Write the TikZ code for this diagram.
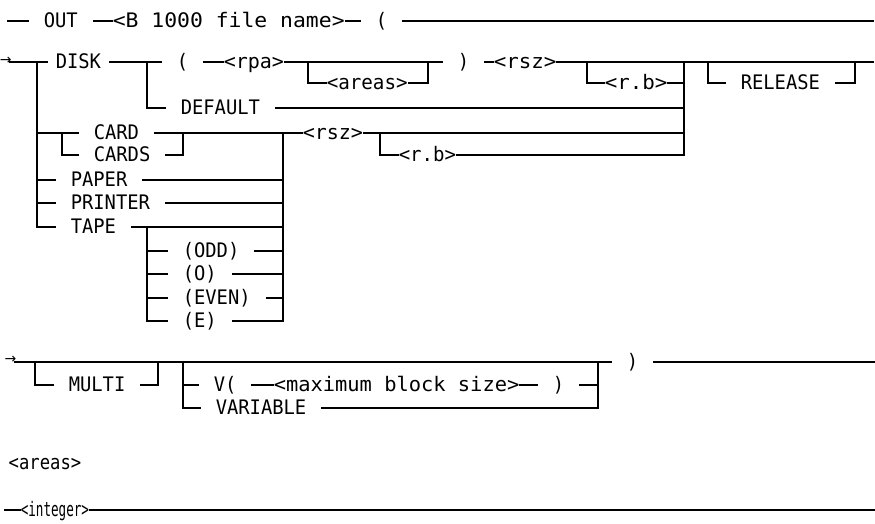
\documentclass[tikz,border=0pt]{standalone}
\usepackage{fontspec}
\usepackage{graphicx}
\newfontfamily\monof{DejaVu Sans Mono}
\newfontfamily\symf{DejaVu Sans}
\newcommand{\sx}[2]{\scalebox{#1}[1]{#2}}
\newcommand{\K}[1]{\scalebox{0.94}[1]{#1}}
\begin{document}
\begin{tikzpicture}[x=1pt,y=-1pt,line width=1.5pt,line cap=rect,
  every node/.style={inner ysep=0pt,text height=12pt,text depth=0pt,
    font=\monof\fontsize{20}{22}\selectfont},
  kw/.style={anchor=west,inner xsep=15pt,xshift=-15pt},
  nt/.style={anchor=west,inner xsep=0pt},
  arr/.style={anchor=west,inner sep=0pt,text height=8pt,text depth=0pt,
    font=\symf\fontsize{14}{16}\selectfont}]
\useasboundingbox (0,0) rectangle (875,523);

% ---------- row 1
\coordinate (r1s) at (8,21);
\node[kw] (out) at (43,21) {\K{OUT}};
\node[nt] (bname) at (112,21) {\sx{1.07}{<B 1000 file name>}};
\node[kw] (lp1) at (375,21) {\K{(}};
\coordinate (r1e) at (873,21);
\draw (r1s) -- (out) -- (bname) -- (lp1) -- (r1e);

% ---------- row 2
\node[arr] (a2) at (-1,60) {→};
\coordinate (r2s) at (10,62);
\coordinate (j37a) at (37,62);
\node[kw,inner xsep=8pt,xshift=7pt] (disk) at (55,62) {\K{DISK}};
\coordinate (j147a) at (147,62);
\node[kw] (lp2) at (176,62) {\K{(}};
\node[nt] (rpa) at (223,62) {\sx{1.0}{<rpa>}};
\coordinate (ja1) at (308,62);
\coordinate (ja2) at (428,62);
\node[nt] (areas) at (326,83) {\sx{0.96}{<areas>}};
\node[kw] (rp2) at (457,62) {\K{)}};
\node[nt] (rsz) at (493,62) {\sx{1.04}{<rsz>}};
\coordinate (jr1) at (587,62);
\node[nt] (rb) at (604,83) {\sx{1.04}{<r.b>}};
\coordinate (j684a) at (684,62);
\coordinate (jl1) at (708,62);
\node[kw] (release) at (740,83) {\K{RELEASE}};
\coordinate (jl2) at (855,62);
\coordinate (r2e) at (873,62);
\draw (r2s) -- (disk) -- (lp2) -- (rpa) -- (rp2) -- (rsz) -- (r2e);
\draw (ja1) |- (areas) -| (ja2);
\draw (jr1) |- (rb) -| (j684a);
\draw (jl1) |- (release) -| (jl2);

% DEFAULT
\node[kw] (default) at (180,108) {\K{DEFAULT}};
\coordinate (j684d) at (684,108);
\draw (j147a) |- (default) -- (j684d);

% main vertical and right vertical
\coordinate (j37t) at (37,227);
\coordinate (j684e) at (684,155);
\draw (j37a) -- (j37t);
\draw (j684a) -- (j684e);

% CARD / CARDS
\coordinate (j37c) at (37,133);
\node[kw] (card) at (93,133) {\K{CARD}};
\coordinate (j62) at (62,133);
\node[kw] (cards) at (93,155) {\K{CARDS}};
\coordinate (j183) at (183,133);
\coordinate (j283t) at (283,133);
\node[nt] (rsz2) at (302,133) {\sx{1.0}{<rsz>}};
\coordinate (j380) at (380,133);
\node[nt] (rb2) at (398,155) {\sx{0.95}{<r.b>}};
\coordinate (j684c) at (684,133);
\draw (j37c) -- (card) -- (rsz2) -- (j684c);
\draw (j62) |- (cards) -| (j183);
\draw (j380) |- (rb2) -- (j684e);

% PAPER, PRINTER, TAPE
\coordinate (j37p) at (37,180);
\node[kw] (paper) at (70,180) {\K{PAPER}};
\coordinate (j283p) at (283,180);
\draw (j37p) -- (paper) -- (j283p);
\coordinate (j37r) at (37,203);
\node[kw] (printer) at (70,203) {\K{PRINTER}};
\coordinate (j283r) at (283,203);
\draw (j37r) -- (printer) -- (j283r);
\node[kw] (tape) at (70,227) {\K{TAPE}};
\coordinate (j283a) at (283,227);
\draw (j37t) -- (tape) -- (j283a);

% tape options
\coordinate (j147t) at (147,227);
\coordinate (j147b) at (147,321);
\coordinate (j283b) at (283,321);
\draw (j147t) -- (j147b);
\draw (j283t) -- (j283b);
\coordinate (j147o1) at (147,251);
\node[kw] (odd) at (182,251) {\K{(ODD)}};
\coordinate (j283o1) at (283,251);
\draw (j147o1) -- (odd) -- (j283o1);
\coordinate (j147o2) at (147,274);
\node[kw] (o) at (182,274) {\K{(O)}};
\coordinate (j283o2) at (283,274);
\draw (j147o2) -- (o) -- (j283o2);
\coordinate (j147o3) at (147,298);
\node[kw] (even) at (182,298) {\K{(EVEN)}};
\coordinate (j283o3) at (283,298);
\draw (j147o3) -- (even) -- (j283o3);
\node[kw] (e) at (182,321) {\K{(E)}};
\draw (j147b) -- (e) -- (j283b);

% ---------- row 3
\node[arr] (a3) at (4,359) {→};
\coordinate (r3s) at (15,362);
\coordinate (j35) at (35,362);
\node[kw] (multi) at (68,385) {\K{MULTI}};
\coordinate (j158) at (158,362);
\draw (j35) |- (multi) -| (j158);
\coordinate (j183b) at (183,362);
\coordinate (j183v) at (183,385);
\coordinate (j598) at (598,362);
\coordinate (j598v) at (598,385);
\node[kw] (vp) at (213,385) {\K{V(}};
\node[nt] (maxb) at (273,385) {\sx{1.02}{<maximum block size>}};
\node[kw] (rp3) at (552,385) {\K{)}};
\node[kw] (variable) at (215,408) {\K{VARIABLE}};
\draw (j183b) |- (variable) -| (j598);
\draw (j183v) -- (vp) -- (maxb) -- (rp3) -- (j598v);
\node[kw] (rp4) at (626,362) {\K{)}};
\coordinate (r3e) at (875,362);
\draw (r3s) -- (rp4) -- (r3e);

% ---------- areas definition
\node[nt] (areasdef) at (8,463) {\sx{0.86}{<areas>}};
\coordinate (i0) at (5,510);
\node[nt] (integer) at (20,510) {\sx{0.63}{<integer>}};
\coordinate (i1) at (875,510);
\draw (i0) -- (integer) -- (i1);
\end{tikzpicture}
\end{document}
